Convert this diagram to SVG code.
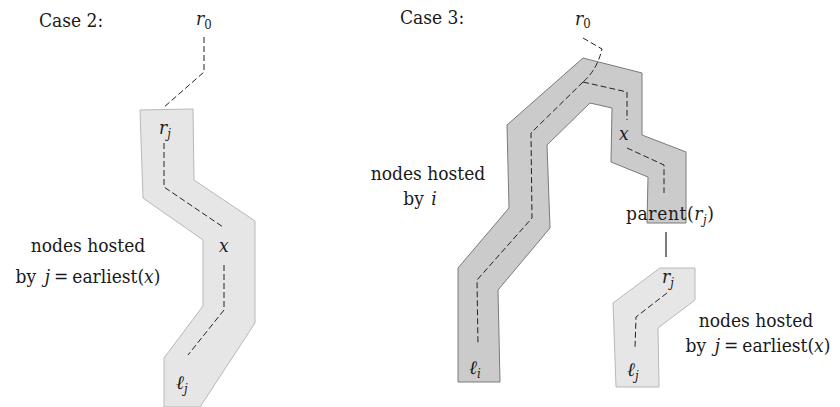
<svg xmlns="http://www.w3.org/2000/svg" width="840" height="407" viewBox="0 0 840 407">
  <style>
    text { fill: #1a1a1a; font-family: "DejaVu Serif Condensed", "DejaVu Serif", serif; }
    .lbl { font-size: 19px; }
    .mi { font-style: italic; }
    .sub { font-size: 13px; }
    .light { fill: #e6e6e6; stroke: #b8b8b8; stroke-width: 1; }
    .dark { fill: #cbcbcb; stroke: #7a7a7a; stroke-width: 1; }
    .dash { fill: none; stroke: #222; stroke-width: 1; stroke-dasharray: 6 3; }
    .solid { fill: none; stroke: #222; stroke-width: 1.2; }
  </style>

  <!-- Case 2 -->
  <g id="case2-title"><text class="lbl" x="39" y="27">Case 2:</text></g>
  <g id="case2-r0"><text class="lbl mi" x="196" y="25">r<tspan class="sub" font-style="normal" dy="4">0</tspan></text></g>

  <g id="case2-path-j">
    <polygon class="light" points="140,110 193,109 194,180 255,221 255,323 200,407 164,407 164,358 203,306 203,240 143,198"/>
    <text class="lbl mi" x="159" y="134">r<tspan class="sub" dy="4">j</tspan></text>
    <text class="lbl mi" x="219" y="252">x</text>
    <text class="lbl mi" x="176" y="389">ℓ<tspan class="sub" dy="4">j</tspan></text>
  </g>

  <g id="case2-label">
    <text class="lbl" x="88" y="252" text-anchor="middle">nodes hosted</text>
    <text class="lbl" x="88" y="283" text-anchor="middle">by <tspan class="mi" dx="3">j</tspan><tspan dx="4">=</tspan><tspan dx="4">earliest(</tspan><tspan class="mi">x</tspan>)</text>
  </g>

  <!-- Case 3 -->
  <g id="case3-title"><text class="lbl" x="400" y="24">Case 3:</text></g>
  <g id="case3-r0"><text class="lbl mi" x="575" y="25">r<tspan class="sub" font-style="normal" dy="3">0</tspan></text></g>

  <g id="case3-path-i">
    <polygon class="dark" points="583,58 642,73 642,135 686,152 686,223 647,223 648,177 611,162 612,108 590,103 547,145 550,228 498,290 500,382 458,382 458,268 509,208 507,125"/>
    <text class="lbl mi" x="619" y="140">x</text>
    <text class="lbl mi" x="469" y="374">ℓ<tspan class="sub" dy="4">i</tspan></text>
  </g>

  <g id="case3-parent">
    <text class="lbl" x="626" y="220" textLength="88">parent(<tspan class="mi">r</tspan><tspan class="sub mi" dy="4">j</tspan><tspan dy="-4">)</tspan></text>
  </g>

  <g id="case3-path-j">
    <polygon class="light" points="660,268 695,268 695,300 658,328 659,387 616,387 613,303"/>
    <text class="lbl mi" x="662" y="283">r<tspan class="sub" dy="4">j</tspan></text>
    <text class="lbl mi" x="627" y="376">ℓ<tspan class="sub" dy="4">j</tspan></text>
  </g>

  <g id="case3-label-i">
    <text class="lbl" x="428" y="180" text-anchor="middle">nodes hosted</text>
    <text class="lbl" x="420" y="205" text-anchor="middle">by <tspan class="mi" dx="2">i</tspan></text>
  </g>

  <g id="case3-label-j">
    <text class="lbl" x="756" y="327" text-anchor="middle">nodes hosted</text>
    <text class="lbl" x="758" y="352" text-anchor="middle">by <tspan class="mi" dx="3">j</tspan><tspan dx="4">=</tspan><tspan dx="4">earliest(</tspan><tspan class="mi">x</tspan>)</text>
  </g>

  <!-- connectors -->
  <g id="connectors">
    <polyline class="dash" points="204,37 204,72 163,108"/>
    <polyline class="dash" points="164,143 164,187 223,227"/>
    <polyline class="dash" points="224,265 224,310 188,355"/>

    <path class="dash" d="M583,38 L602,49 Q597,70 583,82"/>
    <polyline class="dash" points="583,82 531,133 532,218 477,280 478,345"/>
    <polyline class="dash" points="583,82 627,92 627,120"/>
    <polyline class="dash" points="627,148 664,165 664,193"/>

    <line class="solid" x1="666" y1="232" x2="666" y2="257"/>
    <polyline class="dash" points="667,293 636,317 635,348"/>
  </g>
</svg>
